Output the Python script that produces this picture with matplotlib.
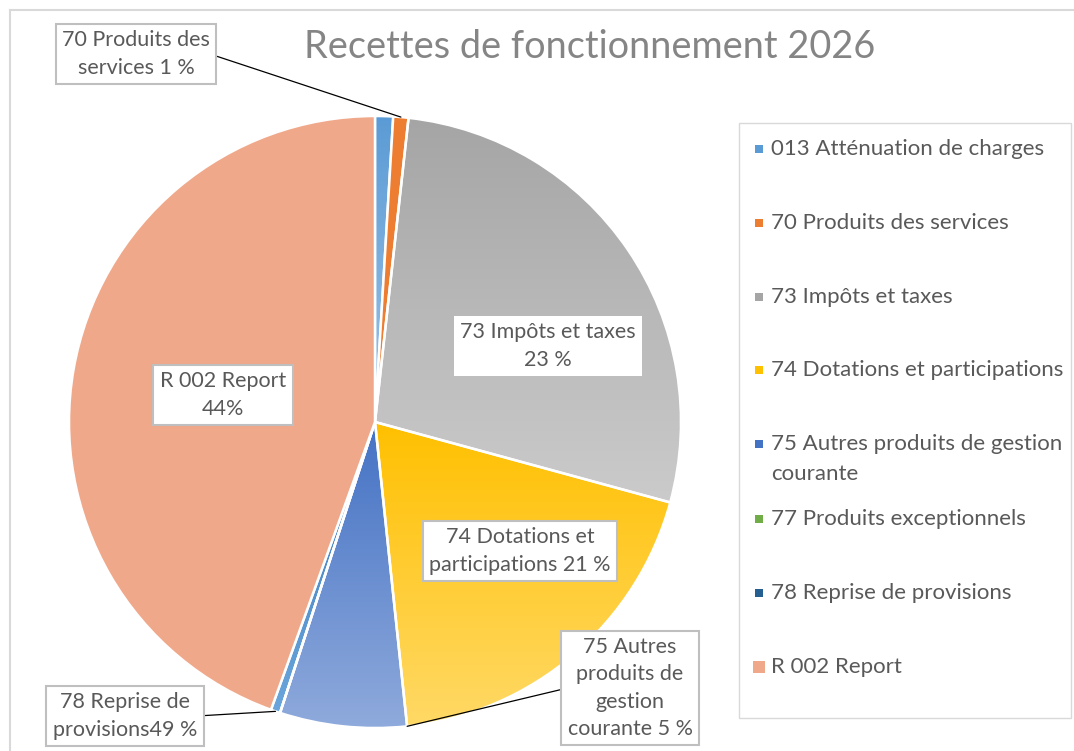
import numpy as np
import matplotlib
matplotlib.use("Agg")
import matplotlib.pyplot as plt
from matplotlib.colors import LinearSegmentedColormap
from matplotlib.patches import Rectangle
from matplotlib.lines import Line2D

plt.rcParams['font.family'] = ['Lato', 'DejaVu Sans']

W, H = 1074, 751
TXT = '#595959'

# data (shares, in %)
categories = ['013 Atténuation de charges', '70 Produits des services', '73 Impôts et taxes',
              '74 Dotations et participations', '75 Autres produits de gestion\ncourante',
              '77 Produits exceptionnels', '78 Reprise de provisions', 'R 002 Report']
shares = [0.95, 0.8, 27.5, 19.1, 6.7, 0.0, 0.5, 44.5]
legend_colors = ['#5B9BD5', '#ED7D31', '#A5A5A5', '#FFC000', '#4472C4', '#70AD47', '#255E91', '#F0A88A']
# slice top / bottom colours (gradient), None = flat
slice_top = ['#5B9BD5', '#ED7D31', '#A5A5A5', '#FFC000', '#4472C4', '#70AD47', '#3A78B8', '#F0A88A']
slice_bottom = ['#9DC3E6', None, '#CBCBCB', '#FFD966', '#8FAADC', None, '#6AA6DC', None]

# data labels as shown on the chart
label_texts = {1: '70 Produits des\nservices 1 %',
               2: '73 Impôts et taxes\n23 %',
               7: 'R 002 Report\n44%',
               3: '74 Dotations et\nparticipations 21 %',
               4: '75 Autres\nproduits de\ngestion\ncourante 5 %',
               6: '78 Reprise de\nprovisions49 %'}


def fx(x):
    return x / W


def fy(y):
    return 1 - y / H


fig = plt.figure(figsize=(W / 100, H / 100), dpi=100)
fig.patch.set_facecolor('white')

# chart area border (only top/left visible)
fig.add_artist(Line2D([fx(10), fx(W + 5)], [fy(10), fy(10)], color='#D9D9D9', lw=1.5))
fig.add_artist(Line2D([fx(10), fx(10)], [fy(10), fy(H + 5)], color='#D9D9D9', lw=1.5))

cx, cy, r = 375, 422, 306
half = r * 1.05
ax = fig.add_axes([fx(cx - half), fy(cy + half), 2 * half / W, 2 * half / H])
ax.axis('off')

wedges, _ = ax.pie(shares, colors=slice_top, startangle=90, counterclock=False,
                   wedgeprops=dict(edgecolor='white', linewidth=1.8))

for i, w in enumerate(wedges):
    if slice_bottom[i] is None or shares[i] == 0:
        continue
    ext = w.get_path().get_extents()
    cmap = LinearSegmentedColormap.from_list('g%d' % i, [slice_top[i], slice_bottom[i]])
    grad = np.linspace(0, 1, 256).reshape(-1, 1)
    im = ax.imshow(grad, cmap=cmap, extent=[ext.x0, ext.x1, ext.y0, ext.y1],
                   origin='upper', aspect='auto', zorder=0.5, interpolation='bilinear')
    im.set_clip_path(w)
    w.set_facecolor('none')

ax.set_xlim(-1.05, 1.05)
ax.set_ylim(-1.05, 1.05)


def rim_point(w, frac):
    a = np.radians(w.theta1 + frac * (w.theta2 - w.theta1))
    return np.cos(a), np.sin(a)


box = dict(boxstyle='square,pad=0.3', fc='white', ec='#BFBFBF', lw=1.5)
box_plain = dict(boxstyle='square,pad=0.3', fc='white', ec='none')
lbl_kw = dict(fontsize=15.5, color=TXT, ha='center', va='center', linespacing=1.45)

# labels inside the pie
ax.text(fx(548), fy(346), label_texts[2], transform=fig.transFigure, bbox=box_plain, **lbl_kw)
ax.text(fx(223), fy(395), label_texts[7], transform=fig.transFigure, bbox=box, **lbl_kw)
ax.text(fx(520), fy(551), label_texts[3], transform=fig.transFigure, bbox=box, **lbl_kw)

# labels with leader lines
callouts = [(1, (136, 54), 0.5, (1, 0.5)),
            (4, (630, 688), 1.0, (0, 0.5)),
            (6, (125, 716), 0.5, (1, 0.5))]
for idx, (px, py), frac, rp in callouts:
    ax.annotate(label_texts[idx], xy=rim_point(wedges[idx], frac), xycoords='data',
                xytext=(fx(px), fy(py)), textcoords='figure fraction', bbox=box,
                arrowprops=dict(arrowstyle='-', color='black', lw=0.9, relpos=rp,
                                shrinkA=0, shrinkB=0),
                annotation_clip=False, **lbl_kw)

# title
fig.text(fx(590), fy(47), 'Recettes de fonctionnement 2026', fontsize=27.3, color='#858585',
         ha='center', va='center')

# legend (drawn by hand to keep Excel spacing)
fig.add_artist(Rectangle((fx(739), fy(718)), (1071 - 739) / W, (718 - 123) / H,
                         transform=fig.transFigure, fill=False, ec='#D9D9D9', lw=1))
row_y = [149, 223, 297, 370, 444, 519, 593, 667]
for i, (name, col) in enumerate(zip(categories, legend_colors)):
    s = 12 if i == len(categories) - 1 else 8
    fig.add_artist(Rectangle((fx(759 - s / 2), fy(row_y[i] + s / 2)), s / W, s / H,
                             transform=fig.transFigure, fc=col, ec='none'))
    for j, line in enumerate(name.split('\n')):
        fig.text(fx(771), fy(row_y[i] + 30 * j), line, fontsize=16, color=TXT,
                 ha='left', va='center')

fig.savefig('out.png', dpi=100, facecolor='white')
